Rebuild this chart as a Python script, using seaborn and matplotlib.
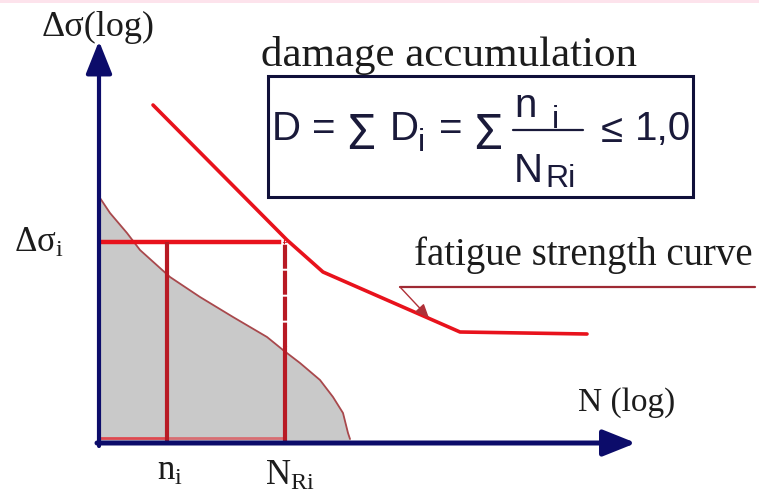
import numpy as np
import pandas as pd
import matplotlib
matplotlib.use("Agg")
import matplotlib.pyplot as plt
import seaborn as sns

# Schematic S-N diagram: x = log N, y = log stress range
fatigue_logN = [0.54, 1.88, 2.24, 3.61, 4.88]
fatigue_logS = [3.38, 2.03, 1.71, 1.11, 1.09]

spectrum_logN = [0.01, 0.11, 0.28, 0.41, 0.71, 1.01, 1.34, 1.68, 1.84, 2.01,
                 2.21, 2.34, 2.44, 2.49, 2.51]
spectrum_logS = [2.45, 2.30, 2.10, 1.93, 1.66, 1.46, 1.26, 1.06, 0.93, 0.80,
                 0.63, 0.46, 0.30, 0.10, 0.04]

stress_level = 2.01      # Δσ_i
n_i = 0.68               # applied cycles at Δσ_i
N_Ri = 1.86              # endurance at Δσ_i

NAVY = "#0c0c6a"
RED = "#e8121c"
DARK_RED = "#b81a24"
INK = "#1c1c1c"

sns.set_theme(style="white")
plt.rcParams["font.family"] = ["Liberation Serif", "DejaVu Serif"]
plt.rcParams["mathtext.fontset"] = "custom"
plt.rcParams["mathtext.rm"] = "Liberation Serif"
plt.rcParams["mathtext.it"] = "Liberation Serif"

fig = plt.figure(figsize=(7.59, 4.95), dpi=100)
ax = fig.add_axes([0, 0, 1, 1])
ax.set_xlim(-0.99, 6.60)
ax.set_ylim(-0.52, 4.43)
ax.axis("off")
fig.patch.set_facecolor("white")

# thin pink band along the top edge
ax.axhspan(4.40, 4.43, color="#fde3ec", lw=0)

spec = pd.DataFrame({"logN": spectrum_logN, "logS": spectrum_logS})
fat = pd.DataFrame({"logN": fatigue_logN, "logS": fatigue_logS})

# stress spectrum (shaded)
ax.fill_between(spec["logN"], 0.03, spec["logS"], color="#c9c9c9", lw=0, zorder=1)
sns.lineplot(data=spec, x="logN", y="logS", sort=False, estimator=None,
             color="#a8484c", lw=1.3, ax=ax, zorder=2)

# construction lines at Δσ_i
ax.plot([0, n_i], [0.05, 0.05], color=RED, lw=2.0, alpha=0.7, zorder=3)
ax.plot([n_i, N_Ri], [0.05, 0.05], color=RED, lw=2.0, alpha=0.5, zorder=3)
ax.plot([0, N_Ri], [stress_level, stress_level], color=RED, lw=3.2,
        solid_capstyle="butt", linestyle=(0, (41, 0.6, 6, 0.6, 9, 0.6, 30)),
        zorder=4)
ax.plot([n_i, n_i], [0.0, stress_level], color=DARK_RED, lw=3.0,
        solid_capstyle="butt", zorder=4)
ax.plot([N_Ri, N_Ri], [stress_level, 0.95], color=DARK_RED, lw=3.0,
        linestyle=(16.7 / 3.0, (5.75, 0.48)), zorder=4)
ax.plot([N_Ri, N_Ri], [0.97, 0.0], color=DARK_RED, lw=3.0,
        solid_capstyle="butt", zorder=4)

# fatigue strength curve
sns.lineplot(data=fat, x="logN", y="logS", sort=False, estimator=None,
             color=RED, lw=2.6, ax=ax, zorder=5)

# axes with arrow heads
arrow = "-|>,head_length=1.0,head_width=0.4"
ax.annotate("", xy=(0.0, 4.02), xytext=(0.0, -0.03),
            arrowprops=dict(arrowstyle=arrow, mutation_scale=20, color=NAVY,
                            lw=3.0, shrinkA=0, shrinkB=0), zorder=6)
ax.annotate("", xy=(5.37, 0.0), xytext=(-0.02, 0.0),
            arrowprops=dict(arrowstyle=arrow, mutation_scale=20, color=NAVY,
                            lw=3.6, shrinkA=0, shrinkB=0), zorder=6)

# axis labels
ax.text(-0.01, 4.07, "Δσ(log)", ha="center", va="baseline", fontsize=26,
        color=INK)
ax.text(5.28, 0.32, "N (log)", ha="center", va="baseline", fontsize=24,
        color=INK)
ax.text(-0.60, 1.91, r"$\mathrm{\Delta\sigma_i}$", ha="center",
        va="baseline", fontsize=25, color=INK)
ax.text(n_i + 0.03, -0.37, r"$\mathrm{n_i}$", ha="center", va="baseline",
        fontsize=25, color=INK)
ax.text(N_Ri + 0.05, -0.42, r"$\mathrm{N_{Ri}}$", ha="center",
        va="baseline", fontsize=25, color=INK)

# damage accumulation rule
ax.text(3.50, 3.77, "damage accumulation", ha="center", va="baseline",
        fontsize=31, color=INK)
ax.add_patch(plt.Rectangle((1.69, 2.46), 4.25, 1.21, fill=False,
                           edgecolor="#10103a", lw=2.2, zorder=6))

FORMULA = "#1a1a3a"
sans = dict(family=["Liberation Sans", "DejaVu Sans"], color=FORMULA,
            va="baseline")
greek = dict(family=["Noto Sans", "DejaVu Sans"], color=FORMULA,
             va="baseline")
big, small = 29, 23
ax.text(1.73, 3.03, "D", ha="left", fontsize=big, **sans)
ax.text(2.25, 3.03, "=", ha="center", fontsize=big, **sans)
ax.text(2.62, 2.94, "\u03a3", ha="center", fontsize=35, **greek)
ax.text(2.91, 3.03, "D", ha="left", fontsize=big, **sans)
ax.text(3.19, 2.92, "i", ha="left", fontsize=small, **sans)
ax.text(3.52, 3.03, "=", ha="center", fontsize=big, **sans)
ax.text(3.89, 2.94, "\u03a3", ha="center", fontsize=35, **greek)
ax.text(4.15, 3.26, "n", ha="left", fontsize=big, **sans)
ax.text(4.53, 3.15, "i", ha="left", fontsize=small, **sans)
ax.plot([4.14, 4.84], [3.13, 3.13], color=FORMULA, lw=1.6, zorder=6)
ax.text(4.15, 2.61, "N", ha="left", fontsize=big, **sans)
ax.text(4.46, 2.56, "Ri", ha="left", fontsize=small, **sans)
ax.text(5.13, 3.01, "≤", ha="center", fontsize=29, **sans)
ax.text(5.36, 3.03, "1,0", ha="left", fontsize=big, **sans)

# fatigue curve callout
ax.text(4.84, 1.78, "fatigue strength curve", ha="center", va="baseline",
        fontsize=28, color=INK)
ax.plot([3.01, 6.56], [1.56, 1.56], color="#9e2a34", lw=1.6)
ax.annotate("", xy=(3.30, 1.25), xytext=(3.01, 1.56),
            arrowprops=dict(arrowstyle="-|>,head_length=0.7,head_width=0.3",
                            mutation_scale=12, color="#b03038", lw=1.0,
                            shrinkA=0, shrinkB=0, facecolor=RED), zorder=7)

fig.savefig("out.png", dpi=100, facecolor="white")
